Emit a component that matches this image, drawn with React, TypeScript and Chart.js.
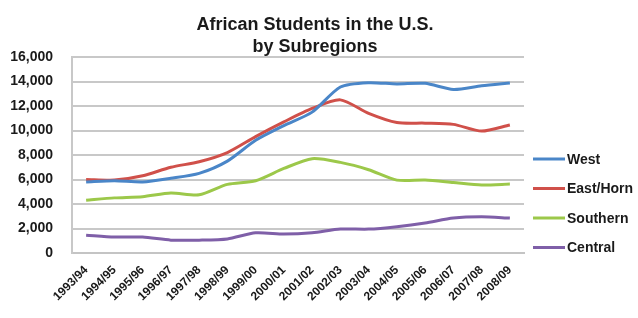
import React, { useEffect, useRef } from "react";
import { Chart, registerables } from "chart.js";

Chart.register(...registerables);

const categories = [
  "1993/94", "1994/95", "1995/96", "1996/97", "1997/98", "1998/99", "1999/00", "2000/01",
  "2001/02", "2002/03", "2003/04", "2004/05", "2005/06", "2006/07", "2007/08", "2008/09",
];
const west = [5800, 5900, 5800, 6100, 6500, 7500, 9200, 10400, 11500, 13550, 13900, 13800, 13850, 13350, 13650, 13870];
const eastHorn = [6000, 5950, 6300, 7000, 7450, 8200, 9500, 10700, 11800, 12500, 11400, 10650, 10600, 10500, 9950, 10450];
const southern = [4300, 4500, 4600, 4900, 4750, 5600, 5900, 6900, 7700, 7400, 6800, 5950, 5950, 5750, 5550, 5630];
const central = [1450, 1300, 1300, 1050, 1050, 1150, 1650, 1550, 1650, 1950, 1950, 2150, 2450, 2850, 2950, 2850];
const seriesNames = ["West", "East/Horn", "Southern", "Central"];
const seriesColors = ["#4a86c8", "#d0504a", "#9cc84a", "#7f5fa8"];
const titleLines = ["African Students in the U.S.", "by Subregions"];

const FONT = "'Liberation Sans', Arial, sans-serif";

const titleAndLegendPlugin = {
  id: "titleAndLegend",
  afterDraw(chart: any) {
    const ctx = chart.ctx;
    const area = chart.chartArea;
    ctx.save();
    // title
    ctx.font = `bold 18px ${FONT}`;
    ctx.fillStyle = "#1a1a1a";
    ctx.textAlign = "center";
    ctx.textBaseline = "middle";
    titleLines.forEach((t, i) => ctx.fillText(t, 315, 25 + i * 22));
    // legend
    const x0 = area.right + 9;
    const lineLen = 32;
    const startY = 159;
    const gap = 29.5;
    ctx.font = `bold 14px ${FONT}`;
    ctx.textAlign = "left";
    chart.data.datasets.forEach((ds: any, i: number) => {
      const y = startY + i * gap;
      ctx.strokeStyle = ds.borderColor;
      ctx.lineWidth = 3;
      ctx.beginPath();
      ctx.moveTo(x0, y);
      ctx.lineTo(x0 + lineLen, y);
      ctx.stroke();
      ctx.fillStyle = "#1a1a1a";
      ctx.fillText(ds.label, x0 + lineLen + 2, y + 1);
    });
    ctx.restore();
  },
};

export default function App() {
  const ref = useRef<HTMLCanvasElement>(null);
  useEffect(() => {
    document.body.style.margin = "0";
    const values = [west, eastHorn, southern, central];
    const chart = new Chart(ref.current!, {
      type: "line",
      data: {
        labels: categories,
        datasets: values.map((v, i) => ({
          label: seriesNames[i],
          data: v,
          borderColor: seriesColors[i],
          backgroundColor: seriesColors[i],
          borderWidth: 3,
          pointRadius: 0,
          tension: 0.25,
          fill: false,
        })),
      },
      options: {
        responsive: false,
        animation: false,
        layout: { padding: { left: 0, right: 114, top: 57, bottom: 0 } },
        plugins: {
          legend: { display: false },
          tooltip: { enabled: false },
          title: { display: false },
        },
        scales: {
          x: {
            offset: true,
            grid: { display: false, drawTicks: false },
            border: { display: true, color: "#c4c4c4", width: 2 },
            ticks: {
              maxRotation: 45,
              minRotation: 45,
              padding: 10,
              color: "#1a1a1a",
              font: { family: FONT, size: 12, weight: "bold" },
            },
            afterFit: (s: any) => { s.height = 65; },
          },
          y: {
            min: 0,
            max: 16000,
            grid: { color: "#c8c8c8", lineWidth: 2, drawTicks: false },
            border: { display: true, color: "#c8c8c8", width: 2 },
            ticks: {
              stepSize: 2000,
              padding: 19,
              color: "#1a1a1a",
              font: { family: FONT, size: 14, weight: "bold" },
              callback: (v: any) => Number(v).toLocaleString("en-US"),
            },
            afterFit: (s: any) => { s.width = 72; },
          },
        },
      },
      plugins: [titleAndLegendPlugin],
    });
    return () => chart.destroy();
  }, []);
  return <canvas ref={ref} width={638} height={318} style={{ display: "block" }} />;
}
